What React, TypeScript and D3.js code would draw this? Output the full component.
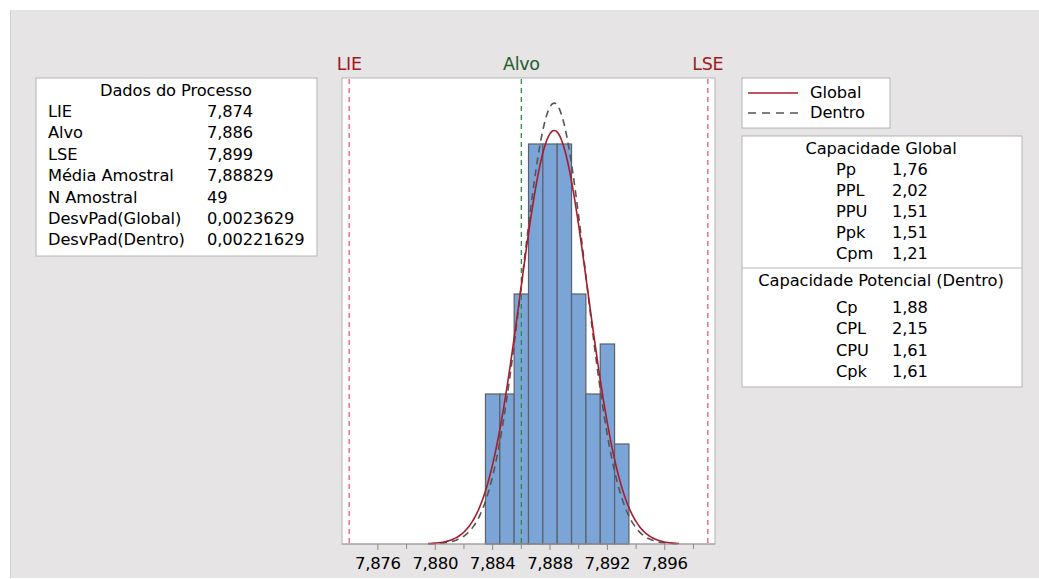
import React from 'react';
import * as d3 from 'd3';

// Process data (Minitab style capability report)
const LIE = 7.874;
const ALVO = 7.886;
const LSE = 7.899;
const MEAN = 7.88829;
const N = 49;
const SD_GLOBAL = 0.0023629;
const SD_WITHIN = 0.00221629;

const binStarts = [7.8835, 7.8845, 7.8855, 7.8865, 7.8875, 7.8885, 7.8895, 7.8905, 7.8915, 7.8925];
const binCounts = [3, 3, 5, 8, 8, 8, 5, 3, 4, 2];
const BIN_WIDTH = 0.001;

const majorTicks = [7.876, 7.88, 7.884, 7.888, 7.892, 7.896];
const minorTicks = [7.878, 7.882, 7.886, 7.89, 7.894, 7.898];

const processLabels = ['LIE', 'Alvo', 'LSE', 'Média Amostral', 'N Amostral', 'DesvPad(Global)', 'DesvPad(Dentro)'];
const processValues = ['7,874', '7,886', '7,899', '7,88829', '49', '0,0023629', '0,00221629'];

const globalLabels = ['Pp', 'PPL', 'PPU', 'Ppk', 'Cpm'];
const globalValues = ['1,76', '2,02', '1,51', '1,51', '1,21'];
const withinLabels = ['Cp', 'CPL', 'CPU', 'Cpk'];
const withinValues = ['1,88', '2,15', '1,61', '1,61'];

const FONT = '"DejaVu Sans", "Noto Sans", sans-serif';

const normalCurve = (sd: number) =>
  d3.range(7.8795, 7.8971, 0.0001).map((v) => ({
    x: v,
    y: N * BIN_WIDTH * (1 / (sd * Math.sqrt(2 * Math.PI))) * Math.exp(-0.5 * ((v - MEAN) / sd) ** 2),
  }));

const fmt = (v: number) => d3.format('.3f')(v).replace('.', ',');

export default function App() {
  const x = d3.scaleLinear().domain([7.8735, 7.8995]).range([342, 715]);
  const y = d3.scaleLinear().domain([0, 9.32]).range([544, 78]);

  const line = d3
    .line<{ x: number; y: number }>()
    .x((d) => x(d.x))
    .y((d) => y(d.y))
    .curve(d3.curveBasis);

  const rowGap = 21.4;
  const fs = 16.3;
  const ls = -0.1;

  return (
    <svg
      width={1039}
      height={579}
      style={{ position: 'absolute', left: 0, top: 0, fontFamily: FONT }}
    >
      <rect x={0} y={0} width={1039} height={579} fill="#fff" />
      <rect x={10} y={10} width={1029} height={568} fill="#e6e4e5" />
      <line x1={10.5} y1={10} x2={10.5} y2={578} stroke="#d2d0d1" />

      {/* Spec labels */}
      <text x={x(LIE)} y={70} textAnchor="middle" fontSize={17.5} fill="#9b1c22" letterSpacing={-0.3}>LIE</text>
      <text x={x(ALVO)} y={70} textAnchor="middle" fontSize={17.5} fill="#245c30" letterSpacing={-0.3}>Alvo</text>
      <text x={x(LSE)} y={70} textAnchor="middle" fontSize={17.5} fill="#9b1c22" letterSpacing={-0.3}>LSE</text>

      {/* Plot area */}
      <rect x={342} y={78} width={373} height={466} fill="#fff" stroke="#b4b4b4" />

      {binStarts.map((b, i) => (
        <rect
          key={i}
          x={x(b)}
          y={y(binCounts[i])}
          width={x(b + BIN_WIDTH) - x(b)}
          height={y(0) - y(binCounts[i])}
          fill="#7ba5d7"
          stroke="#5a6069"
          strokeWidth={1.2}
        />
      ))}

      {[LIE, LSE].map((v) => (
        <line key={v} x1={x(v)} x2={x(v)} y1={79} y2={543} stroke="#e2606c" strokeWidth={1.3} strokeDasharray="5,4" />
      ))}
      <line x1={x(ALVO)} x2={x(ALVO)} y1={79} y2={543} stroke="#2e8b4a" strokeWidth={1.3} strokeDasharray="5,4" />

      <path d={line(normalCurve(SD_WITHIN)) || ''} fill="none" stroke="#555" strokeWidth={1.6} strokeDasharray="7,5" />
      <path d={line(normalCurve(SD_GLOBAL)) || ''} fill="none" stroke="#a81c2c" strokeWidth={1.6} />

      {/* X axis */}
      <line x1={342} x2={715} y1={544} y2={544} stroke="#9a9a9a" />
      {majorTicks.map((t) => (
        <g key={t}>
          <line x1={x(t)} x2={x(t)} y1={544} y2={550} stroke="#8a8a8a" />
          <text x={x(t)} y={569} textAnchor="middle" fontSize={16.5} fill="#000" letterSpacing={-0.3}>
            {fmt(t)}
          </text>
        </g>
      ))}
      {minorTicks.map((t) => (
        <line key={t} x1={x(t)} x2={x(t)} y1={544} y2={549} stroke="#8a8a8a" />
      ))}

      {/* Dados do Processo */}
      <rect x={36} y={78} width={281} height={178} fill="#fff" stroke="#b4b4b4" />
      <text x={176} y={96} textAnchor="middle" fontSize={fs} fill="#000" letterSpacing={ls}>Dados do Processo</text>
      {processLabels.map((l, i) => (
        <g key={l} fontSize={fs} fill="#000" letterSpacing={ls}>
          <text x={48} y={117 + i * rowGap}>{l}</text>
          <text x={207} y={117 + i * rowGap}>{processValues[i]}</text>
        </g>
      ))}

      {/* Legend */}
      <rect x={742} y={78} width={148} height={50} fill="#fff" stroke="#b4b4b4" />
      <line x1={748} x2={798} y1={93} y2={93} stroke="#a81c2c" strokeWidth={1.6} />
      <line x1={748} x2={798} y1={113} y2={113} stroke="#555" strokeWidth={1.6} strokeDasharray="8,6" />
      <text x={810} y={98} fontSize={fs} fill="#000" letterSpacing={ls}>Global</text>
      <text x={810} y={118} fontSize={fs} fill="#000" letterSpacing={ls}>Dentro</text>

      {/* Capacidade */}
      <rect x={742} y={136} width={280} height={251} fill="#fff" stroke="#b4b4b4" />
      <line x1={742} x2={1022} y1={268} y2={268} stroke="#b4b4b4" />
      <text x={881} y={154} textAnchor="middle" fontSize={fs} fill="#000" letterSpacing={ls}>Capacidade Global</text>
      {globalLabels.map((l, i) => (
        <g key={l} fontSize={fs} fill="#000" letterSpacing={ls}>
          <text x={836} y={175 + i * 21}>{l}</text>
          <text x={892} y={175 + i * 21}>{globalValues[i]}</text>
        </g>
      ))}
      <text x={881} y={286} textAnchor="middle" fontSize={fs} fill="#000" letterSpacing={ls}>Capacidade Potencial (Dentro)</text>
      {withinLabels.map((l, i) => (
        <g key={l} fontSize={fs} fill="#000" letterSpacing={ls}>
          <text x={836} y={313 + i * 21.3}>{l}</text>
          <text x={892} y={313 + i * 21.3}>{withinValues[i]}</text>
        </g>
      ))}
    </svg>
  );
}
